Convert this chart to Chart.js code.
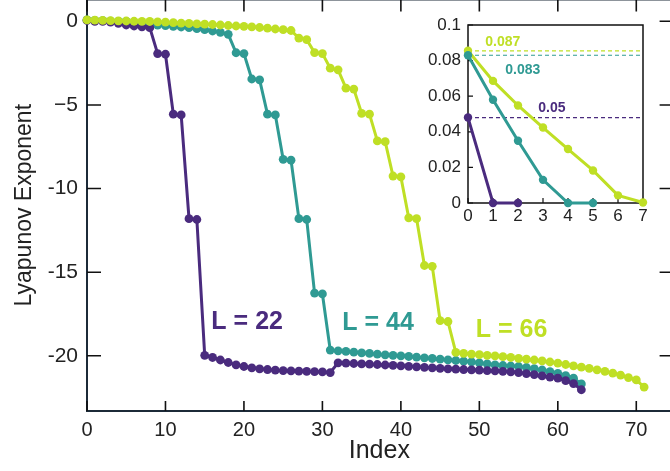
<!DOCTYPE html>
<html>
<head>
<meta charset="utf-8">
<script src="https://cdn.jsdelivr.net/npm/chart.js@4.4.1/dist/chart.umd.min.js"></script>
<style>
  html, body { margin: 0; padding: 0; background: #fff; overflow: hidden; }
  #wrap { position: relative; width: 670px; height: 471px; overflow: hidden; }
  #main { position: absolute; left: 0; top: -5px; }
  #inset { position: absolute; left: 400px; top: 10px; }
</style>
</head>
<body>
<div id="wrap">
  <canvas id="main" width="676" height="476"></canvas>
  <canvas id="inset" width="260" height="215"></canvas>
</div>
<script>
const PURPLE = '#4a2b7e';
const TEAL = '#2f9a93';
const LIME = '#bfdf25';
const AXIS = '#1c2a38';
const FONT = "'Liberation Sans', Arial, sans-serif";

// tick values / labels (ascending, the way Chart.js expects them)
const indexTicks = [0, 10, 20, 30, 40, 50, 60, 70];
const exponentTicks = [-20, -15, -10, -5, 0];
const exponentTickLabels = ['-20', '-15', '-10', '\u22125', '0'];

// Lyapunov spectra
const L22 = [0.048, 0, 0, -0.05, -0.12, -0.22, -0.28, -0.33, -0.38, -1.93,
  -1.97, -5.55, -5.6, -11.8, -11.85, -19.97, -20.1, -20.25, -20.4, -20.54,
  -20.64, -20.72, -20.78, -20.82, -20.86, -20.88, -20.9, -20.92, -20.93, -20.95,
  -20.96, -21.0, -20.42, -20.44, -20.46, -20.48, -20.5, -20.52, -20.55, -20.57,
  -20.6, -20.63, -20.66, -20.69, -20.72, -20.75, -20.78, -20.8, -20.82, -20.84,
  -20.86, -20.88, -20.9, -20.93, -20.96, -21.0, -21.06, -21.12, -21.2, -21.27,
  -21.34, -21.48, -21.66, -22.03];

const L44 = [0.083, 0.058, 0.035, 0.013, 0, 0, -0.08, -0.14, -0.2, -0.23,
  -0.26, -0.3, -0.34, -0.38, -0.44, -0.5, -0.58, -0.66, -0.78, -1.88,
  -1.93, -3.45, -3.5, -5.55, -5.6, -8.25, -8.3, -11.8, -11.85, -16.25,
  -16.3, -19.66, -19.7, -19.74, -19.78, -19.82, -19.86, -19.9, -19.94, -19.97,
  -20.0, -20.04, -20.08, -20.12, -20.16, -20.2, -20.24, -20.28, -20.32, -20.36,
  -20.42, -20.48, -20.54, -20.58, -20.61, -20.64, -20.7, -20.77, -20.85, -20.95,
  -21.05, -21.18, -21.34, -21.68];

const L66 = [0.0855, 0.0686, 0.0548, 0.0424, 0.0303, 0.0183, 0.0043, 0.0003, -0.01, -0.03,
  -0.05, -0.08, -0.11, -0.13, -0.15, -0.17, -0.19, -0.22, -0.25, -0.28,
  -0.3, -0.33, -0.37, -0.41, -0.46, -0.5, -0.55, -1.0, -1.1, -1.87,
  -1.93, -2.8, -2.9, -4.0, -4.05, -5.5, -5.55, -7.15, -7.2, -9.25,
  -9.3, -11.75, -11.8, -14.6, -14.65, -17.9, -17.95, -19.8, -19.85, -19.9,
  -19.93, -19.97, -20.0, -20.05, -20.1, -20.15, -20.2, -20.25, -20.3, -20.37,
  -20.44, -20.52, -20.6, -20.68, -20.75, -20.84, -20.93, -21.04, -21.15, -21.3,
  -21.44, -21.87];

const sizeLabels = ['L = 22', 'L = 44', 'L = 66'];

// inset: positive part of each spectrum
const insetXTicks = [0, 1, 2, 3, 4, 5, 6, 7];
const insetYTicks = [0, 0.02, 0.04, 0.06, 0.08, 0.1];
const insetYTickLabels = ['0', '0.02', '0.04', '0.06', '0.08', '0.1'];
const insetCounts = [3, 6, 8];
const insetLabels = ['0.05', '0.083', '0.087'];

// where the text labels sit, in data units
const sizeLabelAt = [[15.85, -18.41], [32.54, -18.45], [49.54, -18.9]];
const insetLabelAt = [[2.81, 0.0512], [1.49, 0.0725], [0.69, 0.0882]];

const toPoints = arr => arr.map((y, i) => ({ x: i, y: y }));

function series(values, color, order) {
  return {
    data: toPoints(values),
    borderColor: color,
    backgroundColor: color,
    borderWidth: 3,
    pointRadius: 4.4,
    pointBorderWidth: 0,
    pointHoverRadius: 4.4,
    clip: false,
    order: order
  };
}

// axis lines and inward ticks on all four sides
const boxTicks = {
  id: 'boxTicks',
  beforeDatasetsDraw(chart, args, opts) {
    const { ctx, chartArea: a, scales } = chart;
    ctx.save();
    if (opts.fill) {
      ctx.fillStyle = opts.fill;
      ctx.fillRect(a.left, a.top, a.right - a.left, a.bottom - a.top);
    }
    ctx.strokeStyle = opts.color;
    ctx.lineWidth = opts.width;
    ctx.beginPath();
    ctx.moveTo(a.left, a.top); ctx.lineTo(a.left, a.bottom);
    ctx.lineTo(a.right, a.bottom); ctx.lineTo(a.right, a.top);
    ctx.closePath();
    ctx.stroke();
    ctx.strokeStyle = opts.tickColor;
    ctx.lineWidth = opts.tickWidth;
    ctx.beginPath();
    scales.x.ticks.forEach(t => {
      const px = scales.x.getPixelForValue(t.value);
      ctx.moveTo(px, a.bottom); ctx.lineTo(px, a.bottom - opts.bottom);
      if (opts.top) { ctx.moveTo(px, a.top); ctx.lineTo(px, a.top + opts.top); }
    });
    scales.y.ticks.forEach(t => {
      const py = scales.y.getPixelForValue(t.value);
      ctx.moveTo(a.left, py); ctx.lineTo(a.left + opts.left, py);
      if (opts.right) { ctx.moveTo(a.right, py); ctx.lineTo(a.right - opts.right, py); }
    });
    ctx.stroke();
    ctx.restore();
  }
};

// text labels anchored in data units
const dataText = {
  id: 'dataText',
  afterDatasetsDraw(chart, args, opts) {
    const { ctx, scales } = chart;
    ctx.save();
    ctx.font = opts.font;
    ctx.textAlign = 'left';
    ctx.textBaseline = 'alphabetic';
    opts.items.forEach(it => {
      ctx.fillStyle = it.color;
      ctx.fillText(it.text, scales.x.getPixelForValue(it.at[0]), scales.y.getPixelForValue(it.at[1]));
    });
    ctx.restore();
  }
};

const colors = [PURPLE, TEAL, LIME];

new Chart(document.getElementById('main'), {
  type: 'line',
  data: {
    datasets: [
      series(L22, PURPLE, 1),
      series(L44, TEAL, 2),
      series(L66, LIME, 0)
    ]
  },
  options: {
    responsive: false,
    animation: false,
    layout: { padding: { left: 0, top: 0, right: 3, bottom: 0 } },
    plugins: {
      legend: { display: false },
      tooltip: { enabled: false },
      boxTicks: { color: AXIS, width: 2, tickColor: '#111', tickWidth: 1.6, left: 14, bottom: 10, top: 12, right: 12 },
      dataText: {
        font: 'bold 25px ' + FONT,
        items: sizeLabels.map((t, i) => ({ text: t, color: colors[i], at: sizeLabelAt[i] }))
      }
    },
    scales: {
      x: {
        type: 'linear',
        min: 0,
        max: 74.5,
        afterBuildTicks: s => { s.ticks = indexTicks.map(v => ({ value: v })); },
        afterFit: s => { s.height = 60; s.paddingLeft = 0; s.paddingRight = 0; },
        border: { display: false },
        grid: { display: false, drawTicks: false },
        ticks: { color: '#222', font: { family: FONT, size: 20 }, padding: 7, maxRotation: 0 },
        title: { display: true, text: 'Index', color: '#222', font: { family: FONT, size: 25 }, padding: { top: 0, bottom: 5 } }
      },
      y: {
        type: 'linear',
        min: -23.3,
        max: 1.31,
        afterBuildTicks: s => { s.ticks = exponentTicks.map(v => ({ value: v })); },
        afterFit: s => { s.width = 87; s.paddingTop = 0; s.paddingBottom = 0; },
        border: { display: false },
        grid: { display: false, drawTicks: false },
        ticks: {
          color: '#222', font: { family: FONT, size: 21 }, padding: 9,
          callback: v => exponentTickLabels[exponentTicks.indexOf(v)]
        },
        title: { display: true, text: 'Lyapunov Exponent', color: '#222', font: { family: FONT, size: 23 }, padding: { top: 11, bottom: 0 } }
      }
    }
  },
  plugins: [boxTicks, dataText]
});

const insetSeries = [L22, L44, L66];

function refLine(values, color) {
  return {
    data: [{ x: insetXTicks[0], y: values[0] }, { x: insetXTicks[insetXTicks.length - 1], y: values[0] }],
    borderColor: color,
    borderWidth: 1.2,
    borderDash: [4, 3],
    pointRadius: 0,
    clip: false,
    order: 10
  };
}

function insetLine(values, n, color, order) {
  const d = series(values.slice(0, n), color, order);
  d.pointRadius = 4.2;
  d.pointHoverRadius = 4.2;
  return d;
}

new Chart(document.getElementById('inset'), {
  type: 'line',
  data: {
    datasets: [
      ...insetSeries.map((s, i) => refLine(s, colors[i])),
      insetLine(L22, insetCounts[0], PURPLE, 2),
      insetLine(L44, insetCounts[1], TEAL, 0),
      insetLine(L66, insetCounts[2], LIME, 1)
    ]
  },
  options: {
    responsive: false,
    animation: false,
    layout: { padding: { left: 0, top: 15, right: 17, bottom: 0 } },
    plugins: {
      legend: { display: false },
      tooltip: { enabled: false },
      boxTicks: { fill: '#fff', color: '#111', width: 1.5, tickColor: '#111', tickWidth: 1.2, left: 5, bottom: 5, top: 0, right: 0 },
      dataText: {
        font: 'bold 14px ' + FONT,
        items: insetLabels.map((t, i) => ({ text: t, color: colors[i], at: insetLabelAt[i] }))
      }
    },
    scales: {
      x: {
        type: 'linear',
        min: 0,
        max: 7,
        afterBuildTicks: s => { s.ticks = insetXTicks.map(v => ({ value: v })); },
        afterFit: s => { s.height = 22; s.paddingLeft = 0; s.paddingRight = 0; },
        border: { display: false },
        grid: { display: false, drawTicks: false },
        ticks: { color: '#222', font: { family: FONT, size: 17 }, padding: 3, maxRotation: 0 }
      },
      y: {
        type: 'linear',
        min: 0,
        max: 0.1,
        afterBuildTicks: s => { s.ticks = insetYTicks.map(v => ({ value: v })); },
        afterFit: s => { s.width = 68; s.paddingTop = 0; s.paddingBottom = 0; },
        border: { display: false },
        grid: { display: false, drawTicks: false },
        ticks: {
          color: '#222', font: { family: FONT, size: 17 }, padding: 7,
          callback: (v, i) => insetYTickLabels[i]
        }
      }
    }
  },
  plugins: [boxTicks, dataText]
});
</script>
</body>
</html>
